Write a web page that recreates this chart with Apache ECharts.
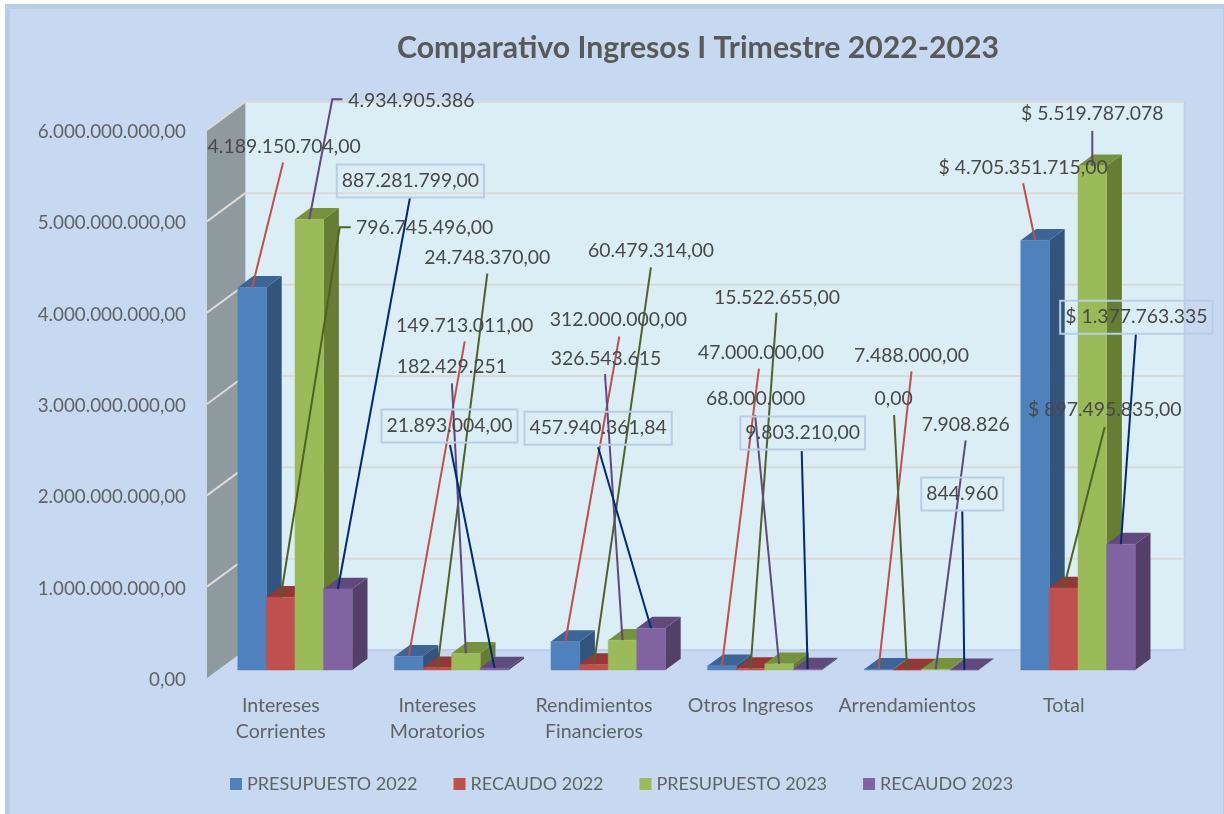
<!DOCTYPE html>
<html lang="es">
<head>
<meta charset="utf-8">
<title>Comparativo Ingresos I Trimestre 2022-2023</title>
<style>
  html, body { margin: 0; padding: 0; background: #ffffff; }
  #chart { width: 1224px; height: 814px; }
</style>
<script src="https://cdn.jsdelivr.net/npm/echarts@6/dist/echarts.min.js"></script>
</head>
<body>
<div id="chart"></div>
<script>
const categories = ['Intereses\nCorrientes', 'Intereses\nMoratorios', 'Rendimientos\nFinancieros', 'Otros Ingresos', 'Arrendamientos', 'Total'];
const presupuesto2022 = [4189150704, 149713011, 312000000, 47000000, 7488000, 4705351715];
const recaudo2022 = [796745496, 24748370, 60479314, 15522655, 0, 897495835];
const presupuesto2023 = [4934905386, 182429251, 326543615, 68000000, 7908826, 5519787078];
const recaudo2023 = [887281799, 21893004, 457940361.84, 9803210, 844960, 1377763334.84];
const axisTicks = [0, 1000000000, 2000000000, 3000000000, 4000000000, 5000000000, 6000000000];

// Decimals printed on each data label
const decimals2022a = [2, 2, 2, 2, 2, 2];
const decimals2022b = [2, 2, 2, 2, 2, 2];
const decimals2023a = [0, 0, 0, 0, 0, 0];
const decimals2023b = [2, 2, 2, 2, 0, 0];

// Label placement relative to the front-top centre of each bar:
// [leader end dx, leader end dy, text centre dx, text centre dy, optional elbow dx]
const placeBlue = [[31, -125, 32, -141], [56, -315, 56, -331], [54, -305, 53, -322], [37, -297, 39, -313], [33, -298, 33, -314], [-12, -57, -12, -72]];
const placeRed = [[70, -370, 144, -369, 59], [50, -394, 50, -410], [57, -397, 57, -414], [26, -356, 26.5, -371], [-13, -255, -13.5, -271], [41, -161, 41, -178]];
const placeGreen = [[33, -120, 102, -119, 23], [-14, -270, -14, -287], [-17.5, -266, -16.5, -281], [-24, -249, -23.5, -265], [30, -229, 30, -245], [0, -35, 0, -52]];
const placePurple = [[72, -391, 72.5, -408], [-44.5, -223, -45, -242], [-53, -181, -53, -200], [-6, -218, -5, -236], [-2, -160, -2, -176], [15, -210, 15.5, -227]];

const FONT = 'Lato, Carlito, "Open Sans", sans-serif';
const TEXT_GREY = '#626262';
const LABEL_SIZE = 19.4;

// Oblique projection of the 3D look
const WALL_DX = 38, WALL_DY = -28;   // front of the floor to the back wall
const PLANE_DX = 9.7, PLANE_DY = -8; // front of the floor to the bars' front faces
const BAR_DX = 15.3, BAR_DY = -11.3; // depth of one bar
const BAR_WIDTH_RATIO = 0.1826;      // bar width over category band

const barSeries = [
  { name: 'PRESUPUESTO 2022', values: presupuesto2022, front: '#4f81bd', top: '#3c6494', side: '#33557d', leader: '#c0504d', decimals: decimals2022a, place: placeBlue, boxed: false },
  { name: 'RECAUDO 2022', values: recaudo2022, front: '#c0504d', top: '#953735', side: '#7f2f2d', leader: '#4f6228', decimals: decimals2022b, place: placeRed, boxed: false },
  { name: 'PRESUPUESTO 2023', values: presupuesto2023, front: '#9bbb59', top: '#76923c', side: '#667d34', leader: '#604a7b', decimals: decimals2023a, place: placeGreen, boxed: false },
  { name: 'RECAUDO 2023', values: recaudo2023, front: '#8064a2', top: '#604a7b', side: '#533f68', leader: '#002a78', decimals: decimals2023b, place: placePurple, boxed: true }
];

const money = (v, d) => v.toLocaleString('de-DE', { minimumFractionDigits: d, maximumFractionDigits: d });

function barGeometry(api, seriesIndex) {
  const cat = api.value(0), val = api.value(1);
  const base = api.coord([cat, 0]);
  const tip = api.coord([cat, val]);
  const w = api.size([1, 0])[0] * BAR_WIDTH_RATIO;
  const x = base[0] + PLANE_DX + (seriesIndex - 2) * w;
  return { x, w, y0: base[1] + PLANE_DY, y1: tip[1] + PLANE_DY };
}

// Back wall, side wall and the gridlines running over them
function renderWalls(params, api) {
  const c = params.coordSys;
  const l = c.x, r = c.x + c.width, b = c.y + c.height, t = c.y;
  const y = api.coord([0, api.value(1)])[1];
  const kids = [];
  if (params.dataIndex === 0) {
    kids.push({
      type: 'polygon', z2: 1,
      shape: { points: [[l + WALL_DX, t + WALL_DY], [r + WALL_DX, t + WALL_DY], [r + WALL_DX, b + WALL_DY], [l + WALL_DX, b + WALL_DY]] },
      style: { fill: '#dceef5', stroke: '#bccfe8', lineWidth: 2 }
    });
    kids.push({
      type: 'polygon', z2: 2,
      shape: { points: [[l, t], [l + WALL_DX, t + WALL_DY], [l + WALL_DX, b + WALL_DY], [l, b]] },
      style: { fill: '#8e9a9e', stroke: 'none' }
    });
  }
  if (params.dataIndex > 0) {
    kids.push({
      type: 'polyline', z2: 3,
      shape: { points: [[l, y], [l + WALL_DX, y + WALL_DY], [r + WALL_DX, y + WALL_DY]] },
      style: { stroke: '#dbdad6', lineWidth: 2, fill: 'none' }
    });
  }
  return { type: 'group', children: kids };
}

function makeBarRenderer(index) {
  const spec = barSeries[index];
  return function (params, api) {
    const g = barGeometry(api, index);
    const x1 = g.x + g.w;
    return {
      type: 'group',
      children: [
        { type: 'polygon', shape: { points: [[x1, g.y1], [x1 + BAR_DX, g.y1 + BAR_DY], [x1 + BAR_DX, g.y0 + BAR_DY], [x1, g.y0]] }, style: { fill: spec.side } },
        { type: 'polygon', shape: { points: [[g.x, g.y1], [x1, g.y1], [x1 + BAR_DX, g.y1 + BAR_DY], [g.x + BAR_DX, g.y1 + BAR_DY]] }, style: { fill: spec.top } },
        { type: 'rect', shape: { x: g.x, y: g.y1, width: g.w, height: g.y0 - g.y1 }, style: { fill: spec.front, stroke: spec.front, lineWidth: 0.5 } }
      ]
    };
  };
}

function makeLeaderRenderer(index) {
  const spec = barSeries[index];
  return function (params, api) {
    const g = barGeometry(api, index);
    const ax = g.x + g.w / 2, ay = g.y1;
    const p = spec.place[params.dataIndex];
    const pts = [[ax, ay]];
    if (p[4] !== undefined) pts.push([ax + p[4], ay + p[1]]);
    pts.push([ax + p[0], ay + p[1]]);
    return { type: 'polyline', shape: { points: pts }, style: { stroke: spec.leader, lineWidth: 2, fill: 'none' } };
  };
}

function makeLabelRenderer(index) {
  const spec = barSeries[index];
  return function (params, api) {
    const g = barGeometry(api, index);
    const ax = g.x + g.w / 2, ay = g.y1;
    const p = spec.place[params.dataIndex];
    const isTotal = params.dataIndex === categories.length - 1;
    const text = (isTotal ? '$ ' : '') + money(api.value(1), spec.decimals[params.dataIndex]);
    const style = { x: ax + p[2], y: ay + p[3], text, align: 'center', verticalAlign: 'middle', font: LABEL_SIZE + 'px ' + FONT, fill: '#484848' };
    if (spec.boxed) {
      style.borderColor = '#b9cde5';
      style.borderWidth = 2;
      style.padding = [7, 5, 7, 5];
    }
    return { type: 'text', style };
  };
}

const pointData = values => values.map((v, i) => [i, v]);
const series = [{
  name: 'muros', type: 'custom', coordinateSystem: 'cartesian2d', silent: true, z: 1,
  data: axisTicks.map(v => [0, v]), renderItem: renderWalls, clip: false
}];
barSeries.forEach((s, i) => series.push({
  name: s.name, type: 'custom', coordinateSystem: 'cartesian2d', z: 2 + i * 0.1,
  itemStyle: { color: s.front }, encode: { x: 0, y: 1 },
  data: pointData(s.values), renderItem: makeBarRenderer(i), clip: false
}));
barSeries.forEach((s, i) => series.push({
  name: s.name + ' guías', type: 'custom', coordinateSystem: 'cartesian2d', silent: true, z: 5 + i * 0.1,
  data: pointData(s.values), renderItem: makeLeaderRenderer(i), clip: false
}));
barSeries.forEach((s, i) => series.push({
  name: s.name + ' etiquetas', type: 'custom', coordinateSystem: 'cartesian2d', silent: true, z: 6 + i * 0.1,
  data: pointData(s.values), renderItem: makeLabelRenderer(i), clip: false
}));

const chart = echarts.init(document.getElementById('chart'));
chart.setOption({
  animation: false,
  backgroundColor: '#ffffff',
  textStyle: { fontFamily: FONT },
  graphic: [{
    type: 'rect', z: -10, silent: true,
    shape: { x: 7.5, y: 6.5, width: 1218, height: 812 },
    style: { fill: '#c6d9f1', stroke: '#b9cde5', lineWidth: 5 }
  }],
  title: {
    text: 'Comparativo Ingresos I Trimestre 2022-2023',
    left: 392, top: 28,
    textStyle: { fontFamily: FONT, fontWeight: 'bold', fontSize: 30.2, color: '#595959' }
  },
  legend: {
    data: barSeries.map(s => s.name),
    left: 225, top: 770, itemWidth: 12, itemHeight: 12, itemGap: 36,
    icon: 'rect',
    textStyle: { fontFamily: FONT, fontSize: 18, color: TEXT_GREY }
  },
  grid: { left: 207, top: 130, width: 939.6, height: 548 },
  xAxis: {
    type: 'category', data: categories,
    axisLine: { show: false }, axisTick: { show: false },
    axisLabel: { interval: 0, margin: 15, lineHeight: 26, fontSize: 19.6, color: TEXT_GREY, fontFamily: FONT, padding: [0, 9, 0, 0] }
  },
  yAxis: {
    type: 'value', min: 0, max: 6000000000, interval: 1000000000,
    axisLine: { show: false }, axisTick: { show: false }, splitLine: { show: false },
    axisLabel: {
      margin: 21,
      formatter: v => '{tick|' + money(v, 2) + '}',
      rich: { tick: { fontSize: 18.8, color: TEXT_GREY, fontFamily: FONT, padding: [4, 0, 0, 0] } }
    }
  },
  series
});
</script>
</body>
</html>
